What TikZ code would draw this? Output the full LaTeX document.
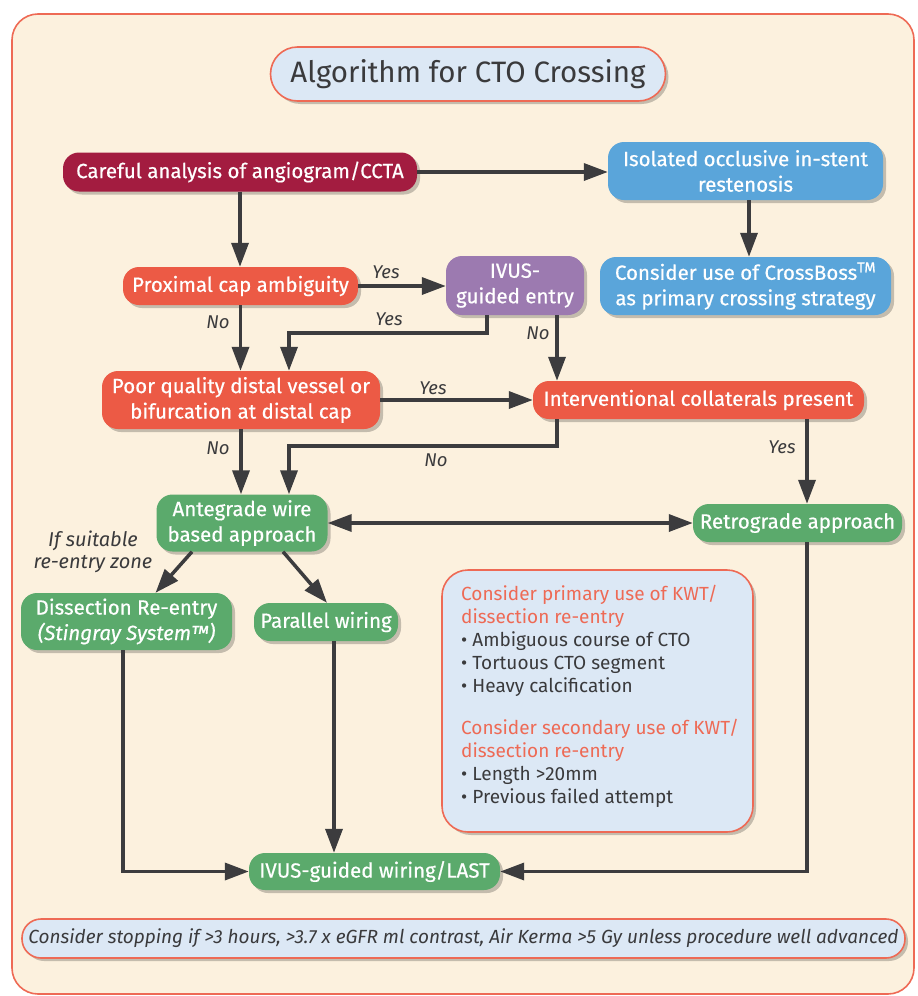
\documentclass[tikz,border=0pt]{standalone}
\usepackage{fontspec}
\setmainfont{Fira Sans}
\newfontfamily\heavyfont{Fira Sans}[FakeBold=0.5]
\usetikzlibrary{arrows.meta,shadows,calc}
\definecolor{cream}{HTML}{FCF1DE}
\definecolor{framered}{HTML}{EE6A55}
\definecolor{crimson}{HTML}{A31C40}
\definecolor{skyblue}{HTML}{5AA5DA}
\definecolor{redor}{HTML}{EC5A45}
\definecolor{violet}{HTML}{9C7AB0}
\definecolor{leaf}{HTML}{5BAA6C}
\definecolor{paleblue}{HTML}{DCE8F5}
\definecolor{arrgray}{HTML}{3C3C3E}
\definecolor{txtgray}{HTML}{3A3A3C}
\begin{document}
\begin{tikzpicture}[x=1pt,y=-1pt,
  box/.style={rounded corners=16pt, text=white, align=center, inner sep=0pt,
    font=\heavyfont\fontsize{20.5}{25.5}\selectfont,
    drop shadow={shadow xshift=3pt, shadow yshift=-3pt, opacity=0.22, fill=black}},
  pill/.style={rounded corners=19pt, draw=framered, line width=1.6pt, fill=paleblue, inner sep=0pt,
    text=txtgray, drop shadow={shadow xshift=3pt, shadow yshift=-3pt, opacity=0.22, fill=black}},
  arr/.style={draw=arrgray, line width=3.5pt, -{Triangle[length=24pt,width=17pt]}},
  lbl/.style={text=txtgray, font=\fontsize{18.5}{21}\selectfont\itshape, inner sep=0pt}
]
\useasboundingbox (0,0) rectangle (918,996);
\draw[framered, line width=1.6pt, fill=cream, rounded corners=26pt] (12,14) rectangle (914,994);

% title
\node[pill, rounded corners=27pt, minimum width=395pt, minimum height=54pt,
  font=\fontsize{29.5}{33}\selectfont] (title) at (468,74) {Algorithm for CTO Crossing};

% nodes
\node[box, fill=crimson, minimum width=354pt, minimum height=39pt] (careful) at (240,172) {Careful analysis of angiogram/CCTA};
\node[box, fill=skyblue, minimum width=275pt, minimum height=58pt] (isolated) at (745.5,171) {Isolated occlusive in-stent\\restenosis};
\node[box, fill=skyblue, minimum width=291pt, minimum height=58pt] (consider) at (745.5,286) {Consider use of CrossBoss\textsuperscript{TM}\\as primary crossing strategy};
\node[box, fill=redor, minimum width=235pt, minimum height=38pt] (proximal) at (240.5,286) {Proximal cap ambiguity};
\node[box, fill=violet, minimum width=138pt, minimum height=59pt] (ivus) at (515,285.5) {IVUS-\\guided entry};
\node[box, fill=redor, minimum width=278pt, minimum height=58pt] (poor) at (241,400) {Poor quality distal vessel or\\bifurcation at distal cap};
\node[box, fill=redor, minimum width=331pt, minimum height=38pt] (interv) at (698.5,400) {Interventional collaterals present};
\node[box, fill=leaf, minimum width=171pt, minimum height=57pt] (ante) at (242,523) {Antegrade wire\\based approach};
\node[box, fill=leaf, minimum width=209pt, minimum height=38pt] (retro) at (797.5,523) {Retrograde approach};
\node[box, fill=leaf, minimum width=211pt, minimum height=57pt] (dissect) at (126.5,621.5) {Dissection Re-entry\\\textit{(Stingray System™)}};
\node[box, fill=leaf, minimum width=144pt, minimum height=38pt] (parallel) at (326,622) {Parallel wiring};
\node[box, fill=leaf, minimum width=251pt, minimum height=37pt] (last) at (374.5,871.5) {IVUS-guided wiring/LAST};

% info box
\node[pill, rounded corners=26pt, minimum width=311pt, minimum height=262pt] (info) at (597.5,701) {};
\node[anchor=north west, align=left, inner sep=0pt, text=txtgray,
  font=\fontsize{19}{23}\selectfont] (infotext) at (461,585) {%
  \textcolor{framered}{Consider primary use of KWT/}\\
  \textcolor{framered}{dissection re-entry}\\
  \textbullet\ Ambiguous course of CTO\\
  \textbullet\ Tortuous CTO segment\\
  \textbullet\ Heavy calcification\\[19pt]
  \textcolor{framered}{Consider secondary use of KWT/}\\
  \textcolor{framered}{dissection re-entry}\\
  \textbullet\ Length >20mm\\
  \textbullet\ Previous failed attempt};

% bottom note
\node[pill, minimum width=883pt, minimum height=39pt, font=\fontsize{19}{22}\selectfont\itshape] (note) at (463.5,938.5)
  {Consider stopping if >3 hours, >3.7 x eGFR ml contrast, Air Kerma >5 Gy unless procedure well advanced};

% helper coordinates
\coordinate (ivA) at (487,333);
\coordinate (ivB) at (289,333);
\coordinate (ivN) at (557,0);
\coordinate (inA) at (557,446);
\coordinate (inB) at (289,446);
\coordinate (rY) at (807,0);
\coordinate (dX) at (123,0);
\coordinate (pX) at (334,0);
\coordinate (cX) at (749,0);

% arrows
\draw[arr] (careful.east) -- (isolated.west |- careful.east);
\draw[arr] (careful.south) -- (proximal.north -| careful.south);
\draw[arr] (isolated.south -| cX) -- (consider.north -| cX);
\draw[arr] (proximal.east) -- (ivus.west |- proximal.east);
\draw[arr] (proximal.south) -- (poor.north -| proximal.south);
\draw[arr] (ivus.south -| ivA) -- (ivA) -- (ivB) -- (poor.north -| ivB);
\draw[arr] (ivus.south -| ivN) -- (interv.north -| ivN);
\draw[arr] (poor.east) -- (interv.west |- poor.east);
\draw[arr] (poor.south) -- (ante.north -| poor.south);
\draw[arr] (interv.south -| inA) -- (inA) -- (inB) -- (ante.north -| inB);
\draw[arr] (interv.south -| rY) -- (retro.north -| rY);
\draw[arr, {Triangle[length=24pt,width=17pt]}-{Triangle[length=24pt,width=17pt]}] (ante.east) -- (retro.west |- ante.east);
\draw[arr] ($(ante.south)+(-50,0)$) -- ($(dissect.north)+(29,0)$);
\draw[arr] ($(ante.south)+(41,0)$) -- ($(parallel.north)+(1,0)$);
\draw[arr] (dissect.south -| dX) |- (last.west);
\draw[arr] (parallel.south -| pX) -- (last.north -| pX);
\draw[arr] (retro.south -| rY) |- (last.east);

% labels
\node[lbl] (l1) at (386,272) {Yes};
\node[lbl] (l2) at (218,322) {No};
\node[lbl] (l3) at (389,319) {Yes};
\node[lbl] (l4) at (538,333) {No};
\node[lbl] (l5) at (433,388) {Yes};
\node[lbl] (l6) at (218,448) {No};
\node[lbl] (l7) at (436,460) {No};
\node[lbl] (l8) at (782,447) {Yes};
\node[lbl, align=center, font=\fontsize{20}{22}\selectfont\itshape] (l9) at (93,552) {If suitable\\re-entry zone};
\end{tikzpicture}
\end{document}
